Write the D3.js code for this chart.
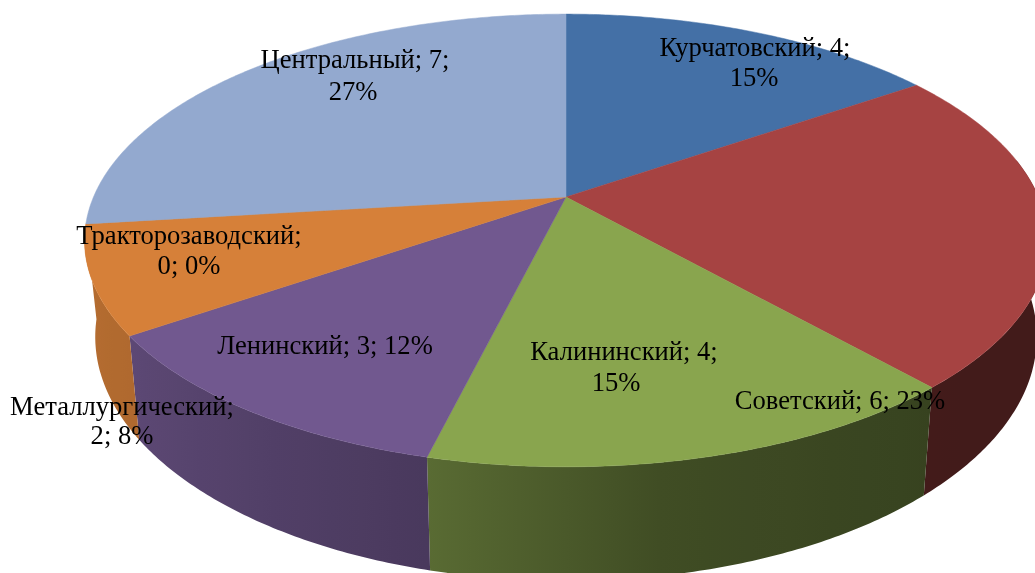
<!DOCTYPE html>
<html>
<head>
<meta charset="utf-8">
<script src="https://cdn.jsdelivr.net/npm/d3@7/dist/d3.min.js"></script>
<style>
  html, body { margin: 0; padding: 0; background: #fff; overflow: hidden; }
  svg { display: block; filter: blur(0.4px); }
  text { font-family: "Liberation Serif", serif; font-size: 26.6px; fill: #000; }
</style>
</head>
<body>
<svg id="chart"></svg>
<script>
// chart data
const categories = ['Курчатовский', 'Советский', 'Калининский', 'Ленинский', 'Металлургический', 'Тракторозаводский', 'Центральный'];
const values = [4, 6, 4, 3, 2, 0, 7];
const colors = ['#4470a6', '#a64342', '#89a54e', '#71588f', '#d68039', '#d68039', '#93a9cf'];

// how many label words stay on the first line
const firstLineWords = [2, 3, 2, 3, 1, 1, 2];
// label centres, one row per line
const labelX = [[755, 754], [840], [624, 616], [325], [122, 122], [189, 189], [355, 353]];
const labelY = [[56, 86], [409], [360, 391], [354], [415, 444], [244, 274], [68, 100]];

// side wall shading, by angle in degrees
const shadeAngles = [90, 138, 170, 194, 235, 263];
const shadeFactors = [0.40, 0.40, 0.46, 0.65, 0.82, 0.87];

const w = 1035;
const h = 573;

const svg = d3.select('#chart').attr('width', w).attr('height', h);

// the disc is a circle seen in perspective, so the apex is not the ellipse centre
const top3d = { x: 566, y: 197, sx: 472.5, sy: 218, k: 0.192 };
const bottom3d = { x: 566, y: 290, sx: 462, sy: 235, k: 0.192 };
// only this stretch of the rim faces the viewer
const wallFrom = 80 * Math.PI / 180;
const wallTo = 263 * Math.PI / 180;

function project(p, angle) {
    let X = Math.sin(angle);
    let Y = -Math.cos(angle);
    let z = 1 - p.k * Y;
    return [p.x + p.sx * X / z, p.y + p.sy * Y / z];
}

function arcAngles(a0, a1) {
    let n = Math.max(1, Math.ceil((a1 - a0) / 0.01));
    return d3.range(n + 1).map((i) => a0 + (a1 - a0) * i / n);
}

const total = d3.sum(values);
const pie = d3.pie().sort(null).value((d) => d)(values);
const line = d3.line();
const percent = d3.format('.0%');

const shade = d3.scaleLinear()
    .domain(shadeAngles)
    .range(shadeFactors)
    .clamp(true);

const defs = svg.append('defs');

// side walls first, the top faces cover whatever is at the back
const walls = svg.append('g');
pie.forEach((d) => {
    let a0 = Math.max(d.startAngle, wallFrom);
    let a1 = Math.min(d.endAngle, wallTo);
    if (a1 <= a0) return;

    let angles = arcAngles(a0, a1);
    let c = d3.rgb(colors[d.index]);
    let x0 = project(top3d, a0)[0];
    let x1 = project(top3d, a1)[0];

    let grad = defs.append('linearGradient')
        .attr('id', 'wall' + d.index)
        .attr('gradientUnits', 'userSpaceOnUse')
        .attr('x1', x0).attr('y1', 0)
        .attr('x2', x1).attr('y2', 0);

    let stops = d3.range(13).map((i) => {
        let a = a0 + (a1 - a0) * i / 12;
        let f = shade(a * 180 / Math.PI);
        return {
            offset: Math.min(1, Math.max(0, (project(top3d, a)[0] - x0) / (x1 - x0))),
            color: d3.rgb(c.r * f, c.g * f, c.b * f).formatHex()
        };
    });
    stops.sort((s, t) => s.offset - t.offset);
    stops.forEach((s) => {
        grad.append('stop').attr('offset', s.offset).attr('stop-color', s.color);
    });

    let rim = angles.map((a) => project(top3d, a))
        .concat(angles.slice().reverse().map((a) => project(bottom3d, a)));
    walls.append('path')
        .attr('d', line(rim) + 'Z')
        .attr('fill', 'url(#wall' + d.index + ')');
});

svg.append('g')
    .selectAll('path')
    .data(pie)
    .enter()
    .append('path')
    .attr('d', (d) => line([[top3d.x, top3d.y]].concat(arcAngles(d.startAngle, d.endAngle).map((a) => project(top3d, a)))) + 'Z')
    .attr('fill', (d) => colors[d.index])
    .attr('stroke', (d) => colors[d.index])
    .attr('stroke-width', 0.5);

// data labels
const labels = svg.append('g');
categories.forEach((name, i) => {
    let words = [name + ';', values[i] + ';', percent(values[i] / total)];
    let lines = [words.slice(0, firstLineWords[i]).join(' '), words.slice(firstLineWords[i]).join(' ')]
        .filter((s) => s.length > 0);
    lines.forEach((s, j) => {
        labels.append('text')
            .attr('x', labelX[i][j])
            .attr('y', labelY[i][j])
            .attr('text-anchor', 'middle')
            .text(s);
    });
});
</script>
</body>
</html>
